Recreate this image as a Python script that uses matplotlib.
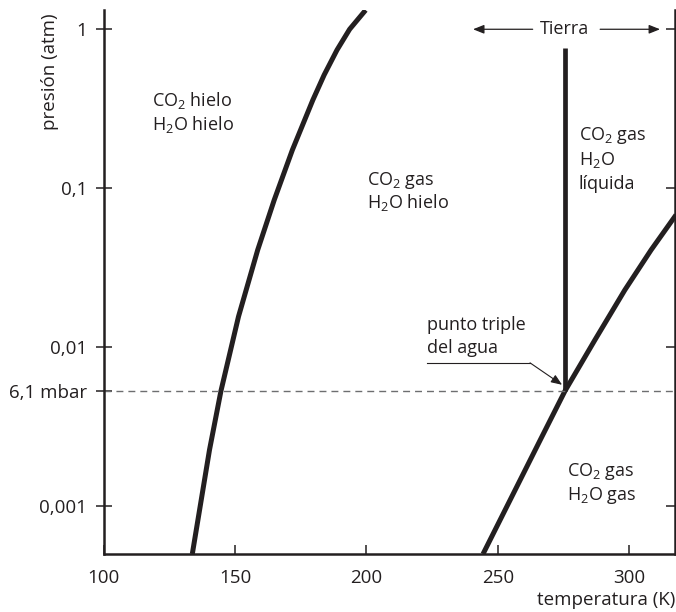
import matplotlib
matplotlib.use("Agg")
import matplotlib.pyplot as plt

# ---- data ----
co2_T = [133.7, 140.25, 144.6, 151.3, 158.6, 164.9, 171.8, 179.6, 183.9, 188.8, 193.6, 199.7]
co2_p = [0.0005, 0.00226, 0.0053, 0.0156, 0.0409, 0.0844, 0.174, 0.359, 0.516, 0.741, 1.0, 1.32]

h2o_T = [244.4, 266.2, 275.6, 287.0, 298.4, 308.4, 317.9]
h2o_p = [0.0005, 0.00261, 0.0053, 0.0111, 0.0229, 0.0409, 0.068]

melt_T = [275.6, 275.6]
melt_p = [0.0053, 0.76]

triple_p = 0.0053
ytick_vals = [0.001, triple_p, 0.01, 0.1, 1]
ytick_labels = ["0,001", "6,1 mbar", "0,01", "0,1", "1"]
xtick_vals = [100, 150, 200, 250, 300]
xtick_labels = ["100", "150", "200", "250", "300"]

earth_left = (263.3, 240.6)
earth_right = (289.0, 311.8)

INK = "#231f20"
W, H = 676, 612

plt.rcParams["font.family"] = ["Open Sans", "DejaVu Sans"]
plt.rcParams["mathtext.fontset"] = "custom"
plt.rcParams["mathtext.rm"] = "Open Sans"
plt.rcParams["mathtext.it"] = "Open Sans:italic"
plt.rcParams["mathtext.bf"] = "Open Sans:bold"

fig = plt.figure(figsize=(W / 100, H / 100), dpi=100)
ax = fig.add_axes([103.8 / W, 1 - 554 / H, (675 - 103.8) / W, (554 - 10) / H])

def P(x, y):
    return (x / W, 1 - y / H)

ax.set_yscale("log")
ax.set_xlim(100, 317.5)
ax.set_ylim(0.0005, 1.322)

ax.plot(co2_T, co2_p, color=INK, lw=3.6, solid_capstyle="butt", solid_joinstyle="round")
ax.plot(h2o_T, h2o_p, color=INK, lw=3.6, solid_capstyle="butt", solid_joinstyle="round")
ax.plot(melt_T, melt_p, color=INK, lw=3.4, solid_capstyle="butt")
ax.axhline(triple_p, color="#6d6e70", lw=1.0, dashes=(5, 3.6))

for s in ["left", "bottom", "right"]:
    ax.spines[s].set_linewidth(1.8)
    ax.spines[s].set_color(INK)
ax.spines["top"].set_visible(False)

ax.set_yticks(ytick_vals)
ax.set_yticklabels(ytick_labels)
ax.yaxis.set_minor_locator(matplotlib.ticker.NullLocator())
ax.set_xticks(xtick_vals)
ax.set_xticklabels(xtick_labels)
ax.tick_params(axis="y", direction="inout", length=12.2, width=1.1, color=INK,
               labelsize=13.5, labelcolor=INK, pad=5.8, right=False)
ax.tick_params(axis="x", direction="in", length=6.5, width=1.1, color=INK,
               labelsize=13.5, labelcolor=INK, pad=10.5)
t = ax.yaxis.get_major_ticks()[1]
t.tick1line.set_visible(False)
t.tick2line.set_visible(False)

ax2 = ax.twinx()
ax2.set_yscale("log")
ax2.set_ylim(ax.get_ylim())
ax2.set_yticks([v for v in ytick_vals if v != triple_p])
ax2.yaxis.set_minor_locator(matplotlib.ticker.NullLocator())
ax2.set_yticklabels([])
ax2.tick_params(axis="y", direction="in", length=6.5, width=1.1, color=INK)
for s in ax2.spines.values():
    s.set_visible(False)

# Tierra arrows
ap = dict(arrowstyle="-|>,head_length=0.55,head_width=0.22", color=INK, lw=0.9,
          shrinkA=0, shrinkB=0, mutation_scale=12)
ax.annotate("", xy=(earth_left[1], 1.0), xytext=(earth_left[0], 1.0), arrowprops=ap)
ax.annotate("", xy=(earth_right[1], 1.0), xytext=(earth_right[0], 1.0), arrowprops=ap)
fig.text(*P(565, 33.5), "Tierra", ha="center", va="baseline", fontsize=13, color=INK)

# triple point annotation
ax.plot([223.1, 262.3], [0.00797, 0.00797], color=INK, lw=0.8)
ax.annotate("", xy=(274.5, 0.0058), xytext=(262.3, 0.00797),
            arrowprops=dict(arrowstyle="-|>,head_length=0.55,head_width=0.22", color=INK,
                            lw=0.8, shrinkA=0, shrinkB=0, mutation_scale=12))
fig.text(*P(427, 329.5), "punto triple", ha="left", va="baseline", fontsize=13, color=INK)
fig.text(*P(427, 353.5), "del agua", ha="left", va="baseline", fontsize=13, color=INK)

# region labels
labels = [
    (152, 105.7, "CO$_2$ hielo"), (152, 130, "H$_2$O hielo"),
    (367, 185, "CO$_2$ gas"), (367, 208, "H$_2$O hielo"),
    (579, 140, "CO$_2$ gas"), (579, 165, "H$_2$O"), (579, 189, "líquida"),
    (567, 476, "CO$_2$ gas"), (567, 500, "H$_2$O gas"),
]
for x, y, s in labels:
    fig.text(*P(x, y), s, ha="left", va="baseline", fontsize=13, color=INK)

# axis labels
fig.text(*P(50, 71.5), "presión (atm)", rotation=90, ha="center", va="center",
         fontsize=13.5, color=INK)
fig.text(*P(675.5, 605), "temperatura (K)", ha="right", va="baseline",
         fontsize=13.5, color=INK)

fig.savefig("out.png", dpi=100)
